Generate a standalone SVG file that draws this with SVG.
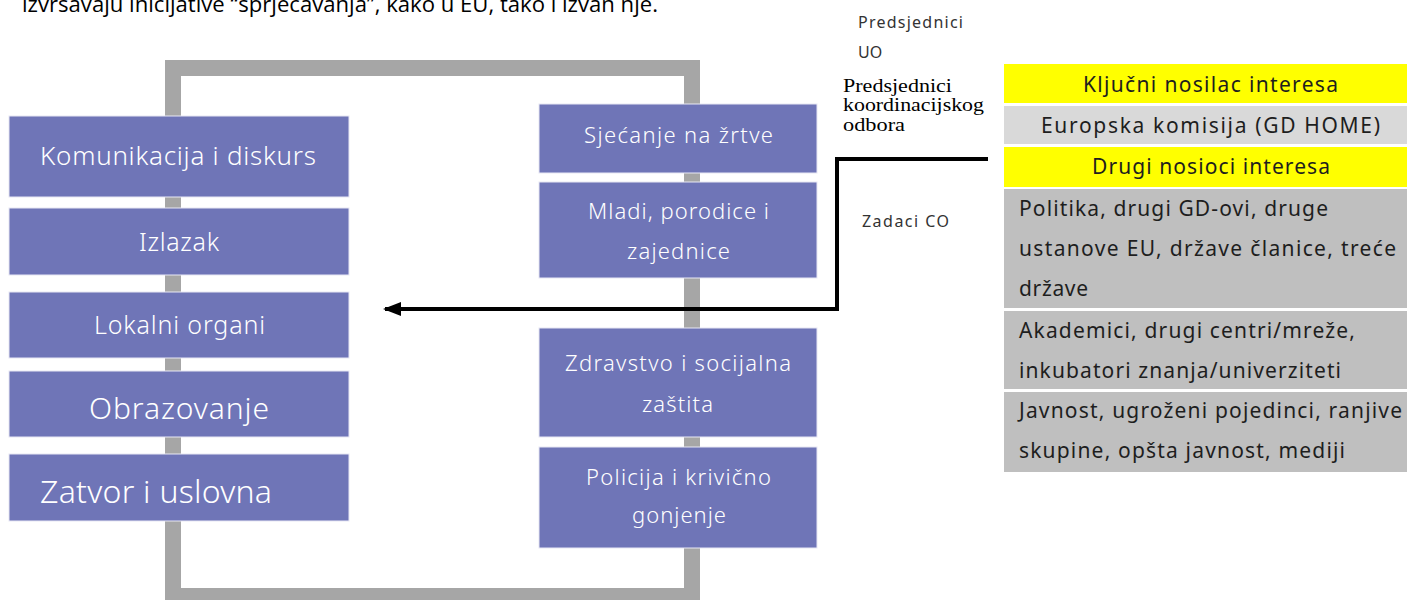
<svg xmlns="http://www.w3.org/2000/svg" width="1407" height="600" viewBox="0 0 1407 600">
<defs>
<style>
.box{fill:#6F75B7;stroke:#E8E8F4;stroke-width:1}
.bt{fill:#fff;font-family:"Noto Sans","Liberation Sans",sans-serif;font-weight:300}
.tt{fill:#1E1E1E;font-family:"Noto Sans","Liberation Sans",sans-serif;font-weight:400;font-size:21px}
.lbl{fill:#333;font-family:"Noto Sans","Liberation Sans",sans-serif;font-size:16px}
.ser{fill:#000;font-family:"Liberation Serif",serif;font-size:18px}
.conn{fill:none;stroke:#000;stroke-width:4}
</style>
<marker id="arr" viewBox="0 0 18 14" refX="16" refY="7" markerWidth="18" markerHeight="14" markerUnits="userSpaceOnUse" orient="auto">
<path d="M0,0 L18,7 L0,14 Z" fill="#000"/>
</marker>
</defs>
<rect width="1407" height="600" fill="#fff"/>
<text x="22" y="12" font-family="Open Sans, sans-serif" font-size="21" fill="#000" textLength="636" lengthAdjust="spacingAndGlyphs">izvršavaju inicijative “sprječavanja”, kako u EU, tako i izvan nje.</text>

<g id="frame"><rect x="173" y="68" width="519" height="528" fill="none" stroke="#A6A6A6" stroke-width="16"/></g>

<g id="n-komunikacija"><rect class="box" x="9" y="116" width="340" height="81"/><text class="bt" x="40" y="165" font-size="26" textLength="276">Komunikacija i diskurs</text></g>
<g id="n-izlazak"><rect class="box" x="9" y="208" width="340" height="67"/><text class="bt" x="139" y="251" font-size="25" textLength="80">Izlazak</text></g>
<g id="n-lokalni"><rect class="box" x="9" y="292" width="340" height="66"/><text class="bt" x="94" y="334" font-size="25" textLength="171">Lokalni organi</text></g>
<g id="n-obrazovanje"><rect class="box" x="9" y="371" width="340" height="66"/><text class="bt" x="89" y="419" font-size="30" textLength="180">Obrazovanje</text></g>
<g id="n-zatvor"><rect class="box" x="9" y="454" width="340" height="67"/><text class="bt" x="40" y="503" font-size="32" textLength="232">Zatvor i uslovna</text></g>

<g id="n-sjecanje"><rect class="box" x="539" y="104" width="278" height="69"/><text class="bt" x="584" y="143" font-size="22" textLength="189">Sjećanje na žrtve</text></g>
<g id="n-mladi"><rect class="box" x="539" y="182" width="278" height="96"/><text class="bt" x="588" y="219" font-size="22" textLength="181">Mladi, porodice i</text><text class="bt" x="627" y="259" font-size="22" textLength="103">zajednice</text></g>
<g id="n-zdravstvo"><rect class="box" x="539" y="328" width="278" height="109"/><text class="bt" x="565" y="371" font-size="22" textLength="226">Zdravstvo i socijalna</text><text class="bt" x="642" y="412" font-size="22" textLength="71">zaštita</text></g>
<g id="n-policija"><rect class="box" x="539" y="447" width="278" height="101"/><text class="bt" x="586" y="485" font-size="22" textLength="185">Policija i krivično</text><text class="bt" x="632" y="523" font-size="22" textLength="94">gonjenje</text></g>

<g id="connectors"><path class="conn" d="M988,159 L837,159 L837,309 L385,309" marker-end="url(#arr)"/></g>

<g id="labels">
<text class="lbl" x="858" y="28" textLength="105">Predsjednici</text>
<text class="lbl" x="858" y="58">UO</text>
<text class="ser" x="843" y="92" textLength="109" lengthAdjust="spacingAndGlyphs">Predsjednici</text>
<text class="ser" x="843" y="111" textLength="141" lengthAdjust="spacingAndGlyphs">koordinacijskog</text>
<text class="ser" x="843" y="131" textLength="62" lengthAdjust="spacingAndGlyphs">odbora</text>
<text class="lbl" x="862" y="227" textLength="87">Zadaci CO</text>
</g>

<g id="n-table">
<rect x="1004" y="64" width="403" height="39" fill="#FFFF00"/>
<rect x="1004" y="106" width="403" height="38" fill="#D9D9D9"/>
<rect x="1004" y="147" width="403" height="40" fill="#FFFF00"/>
<rect x="1004" y="189" width="403" height="119" fill="#BFBFBF"/>
<rect x="1004" y="311" width="403" height="78" fill="#BFBFBF"/>
<rect x="1004" y="392" width="403" height="80" fill="#BFBFBF"/>
<text class="tt" x="1083" y="92" textLength="255">Ključni nosilac interesa</text>
<text class="tt" x="1041" y="133" textLength="339">Europska komisija (GD HOME)</text>
<text class="tt" x="1092" y="174" textLength="238">Drugi nosioci interesa</text>
<text class="tt" x="1019" y="216" textLength="309">Politika, drugi GD-ovi, druge</text>
<text class="tt" x="1019" y="256" textLength="377">ustanove EU, države članice, treće</text>
<text class="tt" x="1019" y="296" textLength="69">države</text>
<text class="tt" x="1019" y="338" textLength="336">Akademici, drugi centri/mreže,</text>
<text class="tt" x="1019" y="378" textLength="322">inkubatori znanja/univerziteti</text>
<text class="tt" x="1019" y="418" textLength="383">Javnost, ugroženi pojedinci, ranjive</text>
<text class="tt" x="1019" y="458" textLength="326">skupine, opšta javnost, mediji</text>
</g>
</svg>
